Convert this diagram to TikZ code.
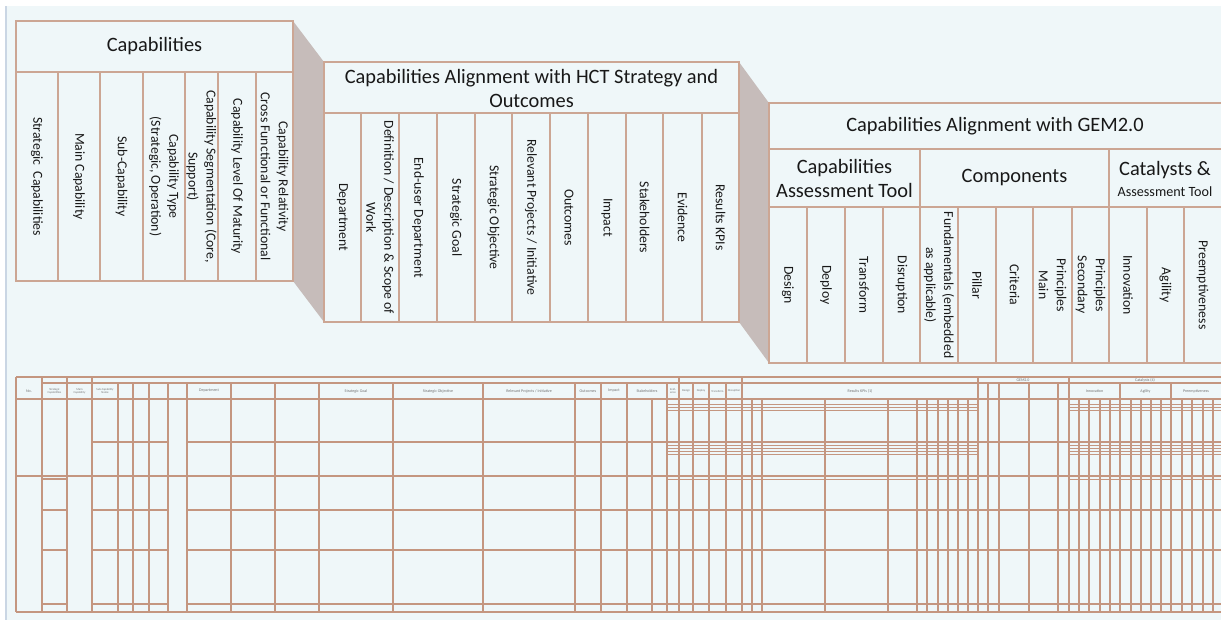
\documentclass[tikz,border=0pt]{standalone}
\usepackage{fontspec}
\setmainfont{Carlito}
\definecolor{paneFill}{RGB}{239,247,249}
\definecolor{paneLine}{RGB}{204,166,148}
\definecolor{gapGrey}{RGB}{198,188,186}
\definecolor{gridLine}{RGB}{196,150,128}
\definecolor{frameLine}{RGB}{202,214,228}
\definecolor{inkText}{RGB}{24,24,24}

\begin{document}
\begin{tikzpicture}
[x=0.75pt,y=-0.75pt,
  paneDecorate/.style={draw=paneLine,line width=0.8pt},%
  gapDecorate/.style={fill=gapGrey},%
  gridDecorate/.style={draw=gridLine,line width=0.85pt},%
  titleDecorate/.style={text=inkText,align=center,inner sep=0pt,font=\fontsize{15.3}{18}\selectfont},%
  colDecorate/.style={text=inkText,align=center,inner sep=0pt,rotate=-90,font=\fontsize{10.3}{13.5}\selectfont},%
  tinyDecorate/.style={text=black!55,align=center,inner sep=0pt,font=\fontsize{3}{3.4}\selectfont},%
  narrowDecorate/.style={text=black!55,align=center,inner sep=0pt,font=\fontsize{2.2}{2.6}\selectfont}]
\useasboundingbox (0,0) rectangle (1221,619);
\clip (0,0) rectangle (1221,619);
%% sheet background
\fill[white] (0,0) rectangle (1221,619);
\fill[paneFill] (6,6) rectangle (1224,622);
\draw[frameLine,line width=0.8pt] (6,6) -- (6,622);

%% corners of the three panes
\foreach \cname/\x/\y in {capNW/16/21, capSE/293/281, capNE/293/21,
  hctNW/324/62, hctSE/739/322, hctNE/739/62, hctSW/324/322,
  gemNW/769/103, gemSE/1224/363, gemSW/769/363}
{
  \coordinate (\cname) at (\x,\y);
}
%% grey links between the panes
\fill[gapDecorate] (capNE) -- (hctNW) -- (hctSW) -- (capSE) -- cycle;
\fill[gapDecorate] (hctNE) -- (gemNW) -- (gemSW) -- (hctSE) -- cycle;

%% pane frames and dividers
\draw[paneDecorate] (capNW) rectangle (capSE);
\draw[paneDecorate] (hctNW) rectangle (hctSE);
\draw[paneDecorate] (gemNW) rectangle (gemSE);
\draw[paneDecorate] (16,72) -- (293,72);
\draw[paneDecorate] (324,113) -- (739,113);
\draw[paneDecorate] (769,149) -- (1224,149);
\draw[paneDecorate] (769,207) -- (1224,207);
\draw[paneDecorate] (920,149) -- (920,207);
\draw[paneDecorate] (1109,149) -- (1109,207);
\foreach \x in {58,100,143,185,218,256}
  \draw[paneDecorate] (\x,72) -- (\x,281);
\foreach \x in {361,399,437,475,512,550,588,626,663,702}
  \draw[paneDecorate] (\x,113) -- (\x,322);
\foreach \x in {807,845,883,920,958,996,1033,1072,1109,1147,1184}
  \draw[paneDecorate] (\x,207) -- (\x,363);

%% pane titles
\node (capTitle) at (154.5,46.5) [titleDecorate] {Capabilities};
\node (hctTitle) at (531.5,88) [titleDecorate] {Capabilities Alignment with HCT Strategy and\\Outcomes};
\node (gemTitle) at (995,126) [titleDecorate] {Capabilities Alignment with GEM2.0};
\node (gemTool) at (844.5,178) [titleDecorate] {Capabilities\\Assessment Tool};
\node (gemParts) at (1014.5,178) [titleDecorate] {Components};
\node (gemCatalyst) at (1165,179) [titleDecorate] {Catalysts \&\\[-2pt]{\fontsize{10.6}{12}\selectfont Assessment Tool}};

%% column labels
\foreach \nodename/\xa/\xb/\txt in {
  capStrategic/16/58/Strategic~~Capabilities,
  capMain/58/100/Main Capability,
  capSub/100/143/Sub-Capability,
  capType/143/185/{Capability Type\\(Strategic, Operation)},
  capSegment/185/218/{Capability Segmentation (Core,\\Support)},
  capLevel/218/256/Capability Level Of Maturity,
  capRelativity/256/293/Capability Relativity\\Cross Functional or Functional}
{
  \node (\nodename) at ({(\xa+\xb)/2},176.5) [colDecorate] {\txt};
}
\foreach \nodename/\xa/\xb/\txt in {
  hctDept/324/361/Department,
  hctScope/361/399/{Definition / Description \& Scope of\\Work},
  hctUser/399/437/End-user Department,
  hctGoal/437/475/Strategic Goal,
  hctObjective/475/512/Strategic Objective,
  hctProjects/512/550/{Relevant Projects / Initiative},
  hctOutcomes/550/588/Outcomes,
  hctImpact/588/626/Impact,
  hctHolders/626/663/Stakeholders,
  hctEvidence/663/702/Evidence,
  hctKpi/702/739/Results KPIs}
{
  \node (\nodename) at ({(\xa+\xb)/2},217.5) [colDecorate] {\txt};
}
\foreach \nodename/\xa/\xb/\txt in {
  gemDesign/769/807/Design,
  gemDeploy/807/845/Deploy,
  gemTransform/845/883/Transform,
  gemDisrupt/883/920/Disruption,
  gemFund/920/958/{Fundamentals (embedded\\as applicable)},
  gemPillar/958/996/Pillar,
  gemCriteria/996/1033/Criteria,
  gemMain/1033/1072/Principles\\Main,
  gemSecond/1072/1109/Principles\\Secondary,
  gemInnov/1109/1147/Innovation,
  gemAgile/1147/1184/Agility,
  gemPreempt/1184/1221/Preemptiveness}
{
  \node (\nodename) at ({(\xa+\xb)/2},285) [colDecorate] {\txt};
}

%% the small sheet: columns
\foreach \x in {16,42,67,92,679,742,978,1069}
  \draw[gridDecorate] (\x,377) -- (\x,612);
\foreach \x in {118,133,149,168,187,231,275,319,393,483,575,601,627,667,693,709,726,988,999,1029,1058,1120,1171}
  \draw[gridDecorate] (\x,383) -- (\x,612);
\foreach \x in {652,752,762,825,888,917,927,938,948,958,968,1079,1089,1100,1110,1131,1141,1151,1161,1182,1192,1203,1213}
  \draw[gridDecorate] (\x,399) -- (\x,612);
%% the small sheet: rows
\foreach \y/\xa/\xb in {377/16/1224, 383/42/1224, 399/16/1224, 476/16/1224, 612/16/1224,
  442/92/168, 442/187/1224, 479/42/67,
  510/42/67, 510/92/168, 510/187/1224,
  550/42/67, 550/92/168, 550/187/1224,
  604/42/67, 604/92/168, 604/187/1224}
{
  \draw[gridDecorate] (\xa,\y) -- (\xb,\y);
}
\foreach \y in {404,407,410,445,448,451,454,479}
{
  \draw[gridDecorate,line width=0.6pt] (667,\y) -- (978,\y);
  \draw[gridDecorate,line width=0.6pt] (1069,\y) -- (1224,\y);
}
%% the small sheet: headings
\foreach \nodename/\x/\y/\txt in {
  shNo/29/391/No.,
  shDept/209/391/Department,
  shGoal/356/391/Strategic Goal,
  shObjective/438/391/Strategic Objective,
  shProjects/529/391/{Relevant Projects / Initiative},
  shOutcomes/588/391/Outcomes,
  shImpact/614/391/Impact,
  shHolders/647/391/Stakeholders,
  shKpi/860/391/Results KPIs (1),
  shGem/1023/380/GEM2.0,
  shCatalyst/1145/380/Catalysts (4),
  shInnov/1094.5/391/Innovation,
  shAgile/1145.5/391/Agility,
  shPreempt/1196/391/Preemptiveness}
{
  \node (\nodename) at (\x,\y) [tinyDecorate] {\txt};
}
\foreach \nodename/\x/\y/\txt in {
  shStrategic/54.5/391/Strategic\\Capabilities,
  shMain/79.5/391/Main\\Capability,
  shSub/105/391/Sub-Capability\\Name,
  shEvidence/673/391/Evid-\\ence,
  shDesign/686/391/Design,
  shDeploy/701/391/Deploy,
  shTransform/717.5/391/Transform,
  shDisrupt/734/391/Disruption}
{
  \node (\nodename) at (\x,\y) [narrowDecorate] {\txt};
}
\end{tikzpicture}
\end{document}
